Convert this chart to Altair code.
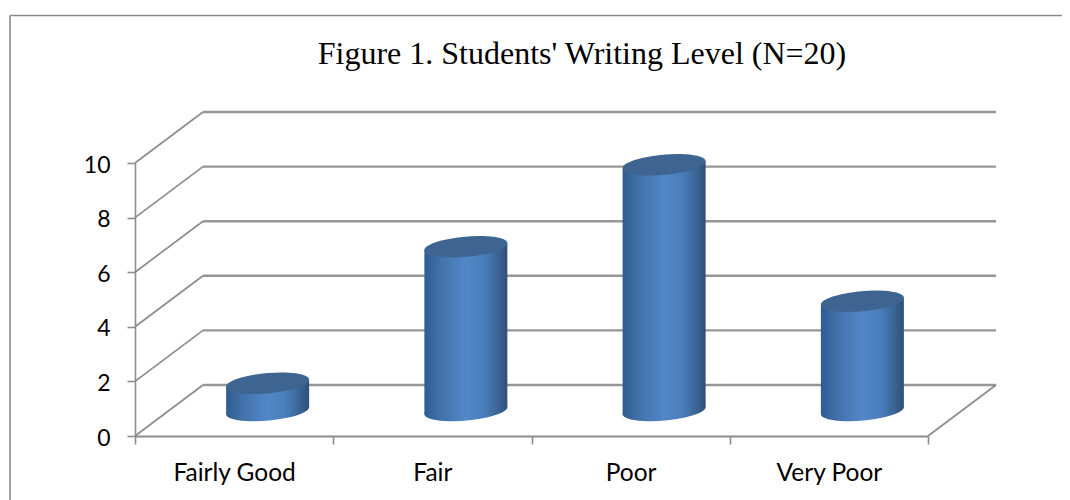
import altair as alt
import pandas as pd

categories = ["Fairly Good", "Fair", "Poor", "Very Poor"]
values = [1, 6, 9, 4]
y_ticks = [0, 2, 4, 6, 8, 10]
title_text = "Figure 1. Students' Writing Level (N=20)"

W, H = 793, 273
DEPTH_X = 68 / (W / 4)      # wall depth, in category units
DEPTH_Y = 51 / (H / 10)     # wall depth, in value units
CYL_W = 83 / (W / 4)
TILT = 3.5 / (H / 10)
CYL_SHIFT = 0.5 + 33.5 / (W / 4)

GRID = "#8c8c8c"
ELLIPSE = "M-1,0.084 A1.004,0.237,-5.1,1,1,1,-0.084 A1.004,0.237,-5.1,1,1,-1,0.084 Z"

xq = alt.Scale(domain=[0, 4], nice=False, zero=False)
yq = alt.Scale(domain=[0, 10], nice=False, zero=False)
X = lambda f: alt.X(f, type="quantitative", scale=xq, axis=None)
Y = lambda f: alt.Y(f, type="quantitative", scale=yq)

# walls
back = pd.DataFrame({"x": [DEPTH_X] * len(y_ticks), "x2": [4 + DEPTH_X] * len(y_ticks),
                     "y": [t + DEPTH_Y for t in y_ticks]})
side_rows = []
for t in y_ticks:
    side_rows += [{"k": f"s{t}", "x": 0, "y": t}, {"k": f"s{t}", "x": DEPTH_X, "y": t + DEPTH_Y}]
side_rows += [{"k": "floor", "x": 4, "y": 0}, {"k": "floor", "x": 4 + DEPTH_X, "y": DEPTH_Y}]
side = pd.DataFrame(side_rows)

back_lines = alt.Chart(back).mark_rule(color="#969696", strokeWidth=2.4).encode(
    x=X("x"), x2="x2", y=Y("y"))
side_lines = alt.Chart(side).mark_line(color=GRID, strokeWidth=1.7).encode(
    x=X("x"), y=Y("y"), detail="k:N")

# cylinders
body_rows, cap_rows = [], []
for i, (c, v) in enumerate(zip(categories, values)):
    cx = i + CYL_SHIFT
    base = DEPTH_Y / 2
    for side_sign in (-1, 1):
        body_rows.append({"cat": c, "x": cx + side_sign * CYL_W / 2,
                          "top": v + base + side_sign * TILT,
                          "bottom": base + side_sign * TILT})
    cap_rows.append({"cat": c, "x": cx, "top": v + base, "bottom": base})
body = pd.DataFrame(body_rows)
caps = pd.DataFrame(cap_rows)

shade = alt.Gradient(
    gradient="linear", x1=0, x2=1, y1=0, y2=0,
    stops=[
        alt.GradientStop(color="#305c8f", offset=0),
        alt.GradientStop(color="#4272aa", offset=0.2),
        alt.GradientStop(color="#5287c7", offset=0.5),
        alt.GradientStop(color="#4a7ebb", offset=0.72),
        alt.GradientStop(color="#3b6595", offset=0.88),
        alt.GradientStop(color="#2f5077", offset=1),
    ],
)

bottoms = alt.Chart(caps).mark_point(shape=ELLIPSE, filled=True, size=83 * 83, fill=shade,
                                     opacity=1, strokeWidth=0).encode(x=X("x"), y=Y("bottom"))
bodies = alt.Chart(body).mark_area(orient="vertical", fill=shade, opacity=1).encode(
    x=X("x"), y=Y("top"), y2="bottom", detail="cat:N")
tops = alt.Chart(caps).mark_point(shape=ELLIPSE, filled=True, size=83 * 83, fill="#3e6592",
                                  opacity=1, strokeWidth=0).encode(x=X("x"), y=Y("top"))

# frame of the figure
frame_left = alt.Chart().mark_rule(color="#8a8a8a", strokeWidth=1.6).encode(
    x=alt.value(-125), y=alt.value(-147.5), y2=alt.value(337))
frame_top = alt.Chart().mark_rule(color="#8a8a8a", strokeWidth=1.6).encode(
    x=alt.value(-125), x2=alt.value(935), y=alt.value(-147.5))
title_mark = alt.Chart().mark_text(font="Liberation Serif", fontSize=32, color="#000000",
                                   align="center", baseline="alphabetic").encode(
    x=alt.value(447), y=alt.value(-99.5), text=alt.value(title_text))

# axes
axis_df = pd.DataFrame({"cat": categories, "v": values})
axes = alt.Chart(axis_df).mark_bar(opacity=0).encode(
    x=alt.X("cat:N", sort=categories, title=None,
            scale=alt.Scale(paddingInner=0, paddingOuter=0),
            axis=alt.Axis(labelAngle=0, tickBand="extent", labelFont="Lato", labelFontSize=24.5,
                          labelColor="#000000", labelPadding=17, tickSize=8, tickColor=GRID,
                          tickWidth=1.6, domainColor=GRID, domainWidth=2, grid=False)),
    y=alt.Y("v:Q", scale=yq, title=None,
            axis=alt.Axis(values=y_ticks, labelFont="Lato", labelFontSize=23, labelOffset=2,
                          labelColor="#000000", labelPadding=17, tickSize=8, tickColor=GRID,
                          tickWidth=1.6, domainColor=GRID, domainWidth=1.6, grid=False)),
)

chart = alt.layer(
    axes, frame_left, frame_top, back_lines, side_lines, bottoms, bodies, tops, title_mark
).resolve_scale(x="independent").properties(
    width=W, height=H,
    padding={"left": 127, "top": 155, "right": 134, "bottom": 64},
    autosize=alt.AutoSizeParams(type="none"),
    background="#ffffff",
).configure_view(strokeWidth=0)

chart.save("out.html", embed_options={"renderer": "svg", "actions": False})
